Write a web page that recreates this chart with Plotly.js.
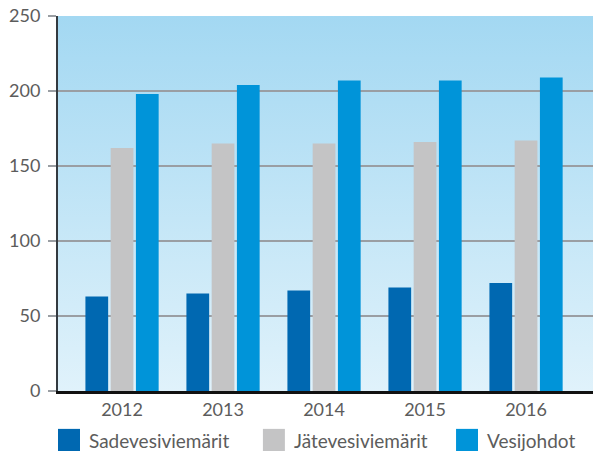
<!DOCTYPE html>
<html><head><meta charset="utf-8">
<script src="https://cdn.plot.ly/plotly-3.0.1.min.js"></script>
<style>html,body{margin:0;padding:0;background:#fff}#c{width:593px;height:452px}</style>
</head><body><div id="c"></div>
<script>
const years = ['2012','2013','2014','2015','2016'];
const seriesNames = ['Sadevesiviemärit','Jätevesiviemärit','Vesijohdot'];
const sadevesi = [63, 65, 67, 69, 72];
const jatevesi = [162, 165, 165, 166, 167];
const vesijohdot = [198, 204, 207, 207, 209];
const yTicks = [0, 50, 100, 150, 200, 250];
const colors = ['#0068b1', '#c4c4c5', '#0094d9'];

const values = [sadevesi, jatevesi, vesijohdot];
const traces = values.map((v, i) => ({
  type: 'bar', x: years, y: v, name: seriesNames[i],
  marker: {color: colors[i], line: {width: 0}}, showlegend: false, hoverinfo: 'skip'
}));

const svg = "<svg xmlns='http://www.w3.org/2000/svg' width='10' height='100' preserveAspectRatio='none'><defs><linearGradient id='g' x1='0' y1='0' x2='0' y2='1'><stop offset='0' stop-color='#a3d8f2'/><stop offset='1' stop-color='#e0f2fb'/></linearGradient></defs><rect width='10' height='100' fill='url(#g)'/></svg>";
const img = 'data:image/svg+xml;charset=utf-8,' + encodeURIComponent(svg);

const fam = 'Lato, "Open Sans", sans-serif';
const txtColor = '#5c5c5c';
const legX = [0, 0.383, 0.744];
const shapes = [], annotations = [];
seriesNames.forEach((n, i) => {
  shapes.push({type: 'rect', xref: 'paper', yref: 'paper', x0: legX[i], x1: legX[i] + 0.0411, y0: -0.101, y1: -0.160, fillcolor: colors[i], line: {width: 0}});
  annotations.push({xref: 'paper', yref: 'paper', x: legX[i] + 0.054, y: -0.131, xanchor: 'left', yanchor: 'middle', text: n, showarrow: false, font: {family: fam, color: txtColor, size: 19}});
});

const layout = {
  width: 593, height: 452,
  margin: {l: 58, r: 0, t: 16, b: 61},
  paper_bgcolor: '#fff', plot_bgcolor: 'rgba(0,0,0,0)',
  font: {family: fam, color: txtColor, size: 17}, showlegend: false,
  barmode: 'group', bargap: 0.25, bargroupgap: 0.1,
  images: [{source: img, xref: 'paper', yref: 'paper', x: 0, y: 1, sizex: 1, sizey: 1, sizing: 'stretch', xanchor: 'left', yanchor: 'top', layer: 'below'}],
  xaxis: {type: 'category', range: [-0.634, 4.663], showgrid: false, zeroline: false,
    showline: true, linecolor: '#111', linewidth: 3, ticks: '', tickfont: {size: 18, color: txtColor, family: fam}},
  yaxis: {range: [0, 250], tickvals: yTicks, showgrid: true, gridcolor: '#9a9ea3', gridwidth: 2,
    zeroline: false, showline: true, linecolor: '#333a40', linewidth: 2,
    ticks: 'outside', ticklen: 8, tickwidth: 2, tickcolor: '#9a9ea3', ticklabelstandoff: 4,
    tickfont: {size: 18, color: txtColor, family: fam}},
  shapes: shapes, annotations: annotations
};
Plotly.newPlot('c', traces, layout, {displayModeBar: false, staticPlot: true});
</script></body></html>
